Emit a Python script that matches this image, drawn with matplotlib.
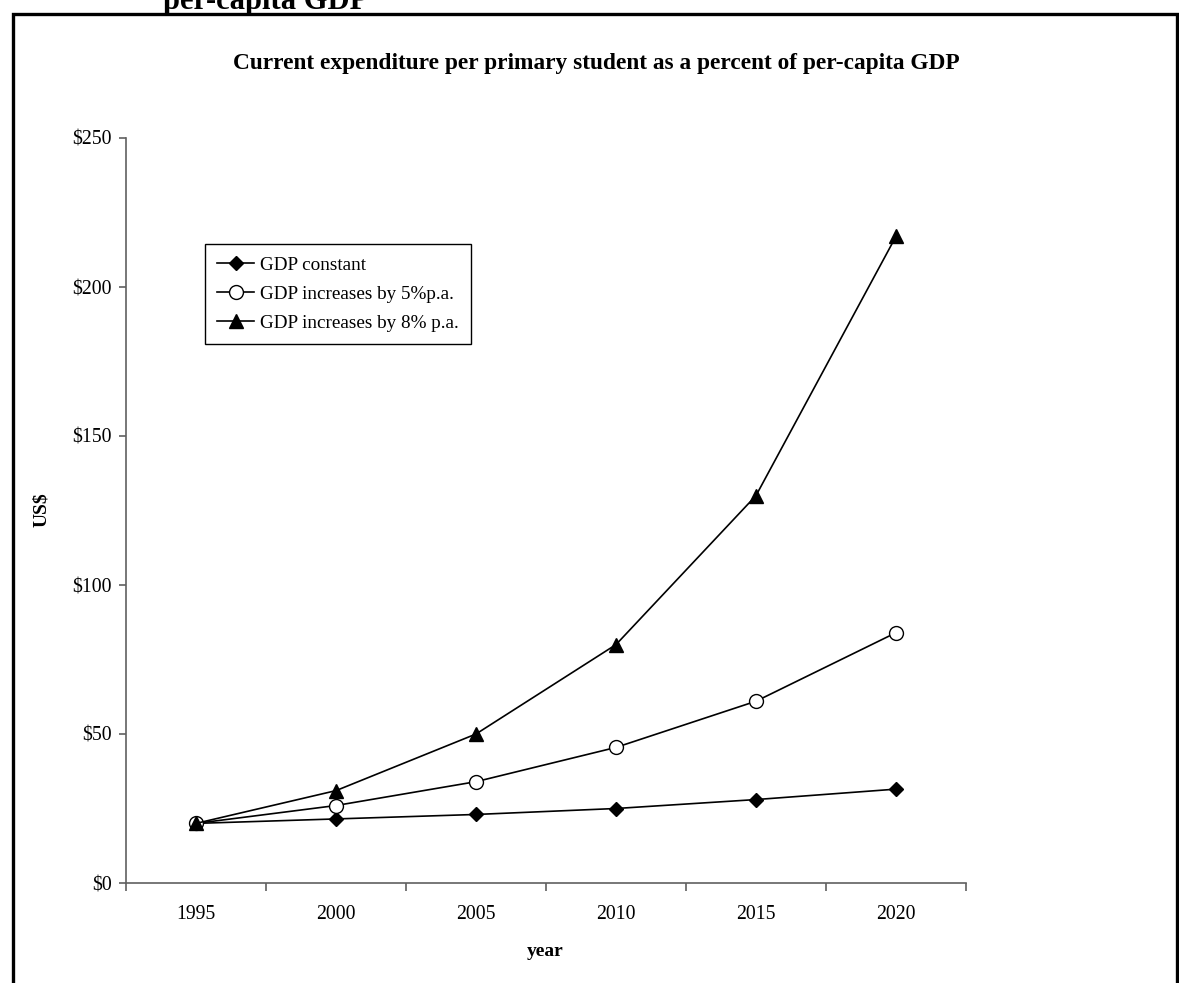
import matplotlib
matplotlib.use("Agg")
import matplotlib.pyplot as plt
from matplotlib.patches import Rectangle

# Series data
years = ["1995", "2000", "2005", "2010", "2015", "2020"]
gdp_constant = [20, 21.5, 23, 25, 28, 31.5]
gdp_5pct = [20, 26, 34, 45.5, 61, 84]
gdp_8pct = [20, 31, 50, 80, 130, 217]
series_labels = ["GDP constant", "GDP increases by 5%p.a.", "GDP increases by 8% p.a."]
y_ticks = [0, 50, 100, 150, 200, 250]

plt.rcParams["font.family"] = ["Liberation Serif", "DejaVu Serif"]

W, H = 1179, 983
fig = plt.figure(figsize=(W / 100, H / 100), dpi=100)
fig.patch.set_facecolor("white")

def fx(px):
    return px / W

def fy(py):
    return 1 - py / H

ax = fig.add_axes([fx(126), fy(883), fx(966) - fx(126), fy(138) - fy(883)])

x = list(range(len(years)))
ax.plot(x, gdp_constant, color="black", lw=1.2, marker="D", ms=7.5,
        mfc="black", mec="black", label=series_labels[0], zorder=3)
ax.plot(x, gdp_5pct, color="black", lw=1.2, marker="o", ms=10,
        mfc="white", mec="black", mew=1.0, label=series_labels[1], zorder=3)
ax.plot(x, gdp_8pct, color="black", lw=1.2, marker="^", ms=10.5,
        mfc="black", mec="black", label=series_labels[2], zorder=3)

ax.set_xlim(-0.5, len(years) - 0.5)
ax.set_ylim(0, 250)

# Category labels centred, tick marks at category boundaries
ax.set_xticks([i - 0.5 for i in range(len(years) + 1)])
ax.set_xticklabels([])
ax.set_xticks(x, minor=True)
ax.set_xticklabels(years, minor=True)
ax.tick_params(axis="x", which="major", direction="out", length=6, width=1.2,
               color="#606060")
ax.tick_params(axis="x", which="minor", length=0, pad=16, labelsize=14.2)

ax.set_yticks(y_ticks)
ax.set_yticklabels([f"${v}" for v in y_ticks])
ax.tick_params(axis="y", direction="out", length=5, width=1.2, color="#606060",
               labelsize=14.2, pad=5)

for side in ["top", "right"]:
    ax.spines[side].set_visible(False)
for side in ["left", "bottom"]:
    ax.spines[side].set_color("#606060")
    ax.spines[side].set_linewidth(1.2)

ax.set_facecolor("white")

fig.text(fx(42), fy(510), "US$", rotation=90, ha="center", va="center",
         fontsize=14, fontweight="bold")
fig.text(fx(545), fy(951), "year", ha="center", va="center",
         fontsize=14, fontweight="bold")

fig.text(fx(596), fy(63), "Current expenditure per primary student as a percent of per-capita GDP",
         ha="center", va="center", fontsize=16.8, fontweight="bold")

# Heading running off the top of the page
fig.text(fx(163), fy(9), "per-capita GDP", ha="left", va="baseline",
         fontsize=22, fontweight="bold")

leg = ax.legend(loc="upper left", bbox_to_anchor=(fx(205), fy(244)),
                bbox_transform=fig.transFigure, borderaxespad=0,
                fancybox=False, framealpha=1, edgecolor="black",
                fontsize=13.8, handlelength=1.9, handletextpad=0.3,
                labelspacing=0.6, borderpad=0.65)
leg.get_frame().set_linewidth(1.0)

# Page border
fig.patches.append(Rectangle((fx(12.5), -0.05), fx(1177) - fx(12.5), fy(14) + 0.05,
                             transform=fig.transFigure, fill=False,
                             edgecolor="black", linewidth=2.4, zorder=10))

fig.savefig("out.png", dpi=100, facecolor="white")
